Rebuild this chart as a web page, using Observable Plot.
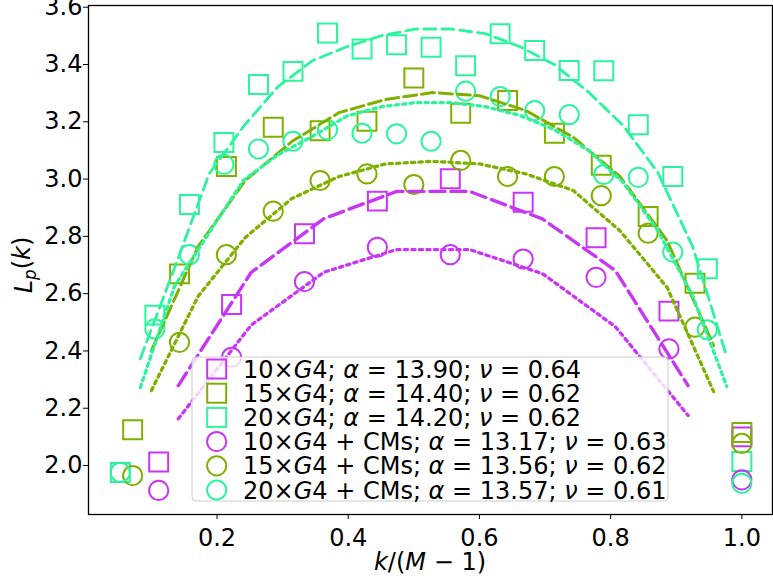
<!DOCTYPE html>
<html>
<head>
<meta charset="utf-8">
<script src="https://cdn.jsdelivr.net/npm/d3@7"></script>
<script src="https://cdn.jsdelivr.net/npm/@observablehq/plot@0.6"></script>
<style>
  body { margin: 0; background: #fff; }
  #chart svg { display: block; }
</style>
</head>
<body>
<div id="chart"></div>
<script>
// Series colours: 10×G4, 15×G4, 20×G4
const colors = ["#c935f5", "#7fb000", "#2bf59c"];
const chainCounts = [10, 15, 20];

// Measured L_p(k) for each chain count; k runs 1..M-1
const k10 = [1, 2, 3, 4, 5, 6, 7, 8, 9];
const k15 = [1, 2, 3, 4, 5, 6, 7, 8, 9, 10, 11, 12, 13, 14];
const k20 = [1, 2, 3, 4, 5, 6, 7, 8, 9, 10, 11, 12, 13, 14, 15, 16, 17, 18, 19];

const sq10 = [2.012, 2.562, 2.809, 2.923, 3.001, 2.919, 2.795, 2.539, 2.100];
const sq15 = [2.125, 2.669, 3.044, 3.181, 3.169, 3.202, 3.353, 3.230, 3.274, 3.160, 3.048, 2.869, 2.636, 2.115];
const sq20 = [1.976, 2.525, 2.911, 3.128, 3.330, 3.376, 3.510, 3.454, 3.469, 3.460, 3.396, 3.507, 3.449, 3.379, 3.378, 3.190, 3.009, 2.687, 2.014];

// Same chains with CMs
const ci10 = [1.913, 2.378, 2.642, 2.762, 2.736, 2.721, 2.657, 2.407, 1.950];
const ci15 = [1.965, 2.430, 2.736, 2.888, 2.995, 3.018, 2.981, 3.065, 3.009, 3.009, 2.942, 2.811, 2.483, 2.077];
const ci20 = [1.976, 2.477, 2.736, 3.051, 3.105, 3.132, 3.172, 3.160, 3.158, 3.132, 3.307, 3.288, 3.239, 3.225, 3.016, 3.006, 2.745, 2.474, 1.938];

// Fitted curves (dashed: G4 only, dotted: with CMs)
const fitX10 = [0.141, 0.252, 0.363, 0.474, 0.585, 0.696, 0.807, 0.918];
const fitX15 = [0.100, 0.171, 0.243, 0.314, 0.386, 0.457, 0.529, 0.600, 0.671, 0.743, 0.814, 0.886, 0.957];
const fitX20 = [0.083, 0.135, 0.188, 0.240, 0.293, 0.346, 0.398, 0.451, 0.504, 0.556, 0.609, 0.662, 0.714, 0.767, 0.819, 0.872, 0.925, 0.977];

const fitSq10 = [2.279, 2.674, 2.862, 2.957, 2.957, 2.861, 2.681, 2.279];
const fitSq15 = [2.401, 2.764, 2.995, 3.131, 3.232, 3.278, 3.302, 3.291, 3.239, 3.146, 3.009, 2.785, 2.419];
const fitSq20 = [2.373, 2.688, 3.018, 3.183, 3.323, 3.414, 3.462, 3.501, 3.524, 3.524, 3.508, 3.462, 3.400, 3.302, 3.187, 3.023, 2.764, 2.380];

const fitCi10 = [2.163, 2.490, 2.675, 2.754, 2.754, 2.670, 2.485, 2.175];
const fitCi15 = [2.262, 2.590, 2.796, 2.932, 3.009, 3.053, 3.062, 3.053, 3.018, 2.960, 2.820, 2.622, 2.258];
const fitCi20 = [2.272, 2.625, 2.813, 2.995, 3.085, 3.150, 3.220, 3.253, 3.267, 3.267, 3.253, 3.222, 3.173, 3.099, 2.988, 2.820, 2.593, 2.276];

// Legend labels
const alphaSq = ["13.90", "14.40", "14.20"];
const nuSq = ["0.64", "0.62", "0.62"];
const alphaCi = ["13.17", "13.56", "13.57"];
const nuCi = ["0.63", "0.62", "0.61"];

const xTicks = [0.2, 0.4, 0.6, 0.8, 1.0];
const yTicks = [2.0, 2.2, 2.4, 2.6, 2.8, 3.0, 3.2, 3.4, 3.6];

const points = (ks, ys) => {
  const M = ks.length + 1;
  return ks.map((k, i) => ({x: k / (M - 1), y: ys[i]}));
};
const curve = (xs, ys) => xs.map((x, i) => ({x, y: ys[i]}));

const sqSets = [points(k10, sq10), points(k15, sq15), points(k20, sq20)];
const ciSets = [points(k10, ci10), points(k15, ci15), points(k20, ci20)];
const fitSqSets = [curve(fitX10, fitSq10), curve(fitX15, fitSq15), curve(fitX20, fitSq20)];
const fitCiSets = [curve(fitX10, fitCi10), curve(fitX15, fitCi15), curve(fitX20, fitCi20)];

const dashWidths = [3.4, 3.0, 2.8];
const dashPatterns = ["15,6", "13,5", "12,6"];

const marks = [];
sqSets.forEach((d, i) => marks.push(Plot.dot(d, {
  x: "x", y: "y", symbol: "square", r: 10.7, fill: "none", stroke: colors[i], strokeWidth: 2
})));
ciSets.forEach((d, i) => marks.push(Plot.dot(d, {
  x: "x", y: "y", symbol: "circle", r: 9.6, fill: "none", stroke: colors[i], strokeWidth: 2
})));
fitSqSets.forEach((d, i) => marks.push(Plot.line(d, {
  x: "x", y: "y", stroke: colors[i], strokeWidth: dashWidths[i], strokeDasharray: dashPatterns[i]
})));
fitCiSets.forEach((d, i) => marks.push(Plot.line(d, {
  x: "x", y: "y", stroke: colors[i], strokeWidth: 3.3, strokeDasharray: "3.3,4.2"
})));

const chart = Plot.plot({
  width: 773,
  height: 581,
  marginLeft: 88,
  marginTop: 5,
  marginRight: 1,
  marginBottom: 67,
  style: {fontFamily: "DejaVu Sans, sans-serif", fontSize: "24px", background: "#fff", color: "#000"},
  x: {domain: [0.0041, 1.0467]},
  y: {domain: [1.829, 3.606]},
  marks: [
    ...marks,
    Plot.axisX({ticks: xTicks, tickFormat: d => d.toFixed(1), tickSize: 5, tickPadding: 9, label: null, fontSize: 24}),
    Plot.axisY({ticks: yTicks, tickFormat: d => d.toFixed(1), tickSize: 5, tickPadding: 1, label: null, fontSize: 24}),
    Plot.frame({stroke: "#000", strokeWidth: 1.3})
  ]
});

document.getElementById("chart").appendChild(chart);

// Axis titles and legend, with italic math symbols
const svg = d3.select(chart);
const font = "DejaVu Sans, sans-serif";

function richText(sel, parts) {
  parts.forEach(p => {
    const t = sel.append("tspan").text(p.t);
    if (p.i) t.attr("font-style", "italic");
    if (p.sub) t.attr("font-size", "0.7em").attr("dy", "0.25em");
    if (p.up) t.attr("dy", "-0.25em");
  });
}

const xt = svg.append("text")
  .attr("x", 430).attr("y", 570)
  .attr("text-anchor", "middle")
  .attr("font-family", font).attr("font-size", 24).attr("fill", "#000");
richText(xt, [{t: "k", i: true}, {t: "/("}, {t: "M", i: true}, {t: " − 1)"}]);

const yt = svg.append("text")
  .attr("transform", "translate(32,265) rotate(-90)")
  .attr("text-anchor", "middle")
  .attr("font-family", font).attr("font-size", 24).attr("fill", "#000");
richText(yt, [{t: "L", i: true}, {t: "p", i: true, sub: true}, {t: "(", up: true}, {t: "k", i: true}, {t: ")"}]);

// Legend
const lg = svg.append("g")
  .attr("font-family", font).attr("font-size", 24).attr("text-anchor", "start");
lg.append("rect")
  .attr("x", 192).attr("y", 357).attr("width", 476).attr("height", 144)
  .attr("rx", 4)
  .attr("fill", "#fff").attr("fill-opacity", 0.8)
  .attr("stroke", "#cccccc").attr("stroke-width", 1);

const rowY0 = 369, rowStep = 24.2;
const entries = [];
chainCounts.forEach((m, i) => entries.push({m, i, cms: false, a: alphaSq[i], n: nuSq[i]}));
chainCounts.forEach((m, i) => entries.push({m, i, cms: true, a: alphaCi[i], n: nuCi[i]}));

entries.forEach((e, j) => {
  const cy = rowY0 + j * rowStep;
  if (e.cms) {
    lg.append("circle").attr("cx", 216.7).attr("cy", cy).attr("r", 9.6)
      .attr("fill", "none").attr("stroke", colors[e.i]).attr("stroke-width", 2);
  } else {
    lg.append("rect").attr("x", 216.7 - 9.5).attr("y", cy - 9.5).attr("width", 19).attr("height", 19)
      .attr("fill", "none").attr("stroke", colors[e.i]).attr("stroke-width", 2);
  }
  const t = lg.append("text").attr("x", 243).attr("y", cy).attr("dy", "0.36em")
    .attr("text-anchor", "start").attr("fill", "#000");
  const parts = [{t: e.m + "×"}, {t: "G", i: true}, {t: "4"}];
  if (e.cms) parts.push({t: " + CMs"});
  parts.push({t: "; "}, {t: "α", i: true}, {t: " = " + e.a + "; "}, {t: "ν", i: true}, {t: " = " + e.n});
  richText(t, parts);
});
</script>
</body>
</html>
